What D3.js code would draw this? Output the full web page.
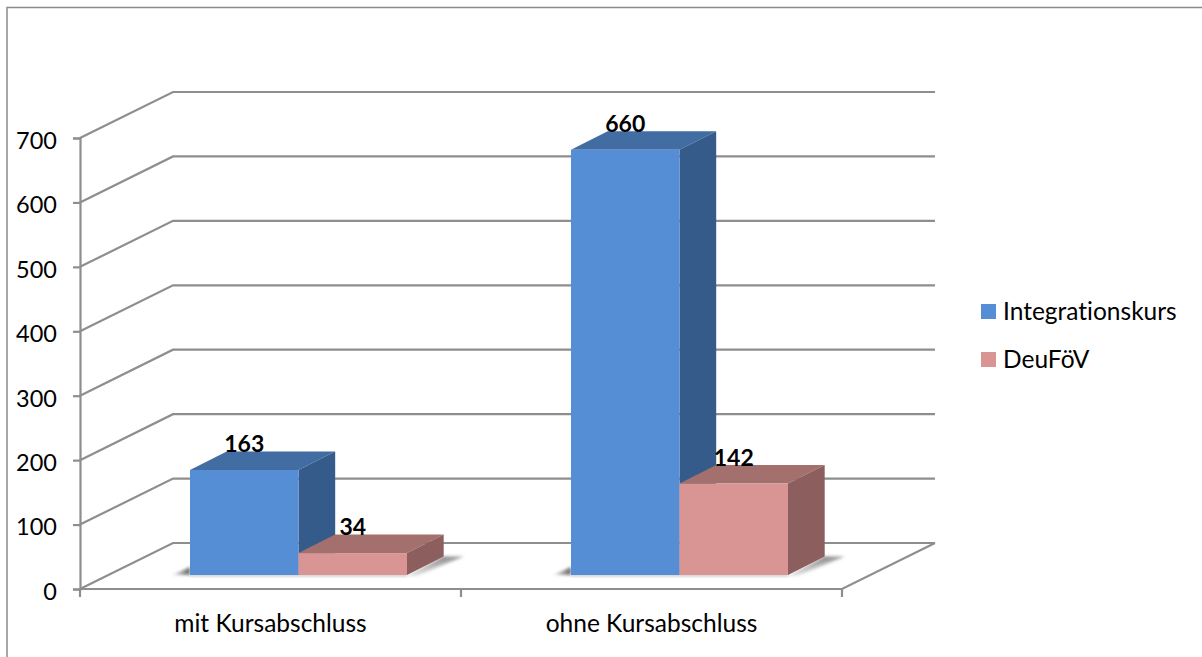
<!DOCTYPE html>
<html>
<head>
<meta charset="utf-8">
<script src="https://cdn.jsdelivr.net/npm/d3@7"></script>
<style>
  html, body { margin: 0; padding: 0; background: #fff; }
  svg { display: block; }
  text { font-family: Lato, "Open Sans", sans-serif; fill: #000; font-variant-ligatures: none; }
</style>
</head>
<body>
<div id="chart"></div>
<script>
const categories = ['mit Kursabschluss', 'ohne Kursabschluss'];
const seriesNames = ['Integrationskurs', 'DeuFöV'];
const integrationskurs = [163, 660];
const deufoev = [34, 142];
const yTicks = [0, 100, 200, 300, 400, 500, 600, 700];

const WIDTH = 1202;
const HEIGHT = 657;
const GRID = '#8e8e8e';

// oblique offset of the back wall and of the bars
const WALL_DX = 93, WALL_DY = -46;
const BAR_DX = 36.7, BAR_DY = -18.5;
const FLOOR_DY = -14;

const colours = [
  { front: '#558ed5', top: '#426da3', side: '#355b8a' },
  { front: '#d99594', top: '#a4706e', side: '#8c5f5e' }
];

const x0 = d3.scaleBand().domain(categories).range([80, 842]);
const x1 = d3.scaleBand().domain(seriesNames).range([110, 327]);
const y = d3.scaleLinear().domain([0, 700]).range([589, 138]);

const svg = d3.select('#chart').append('svg')
  .attr('width', WIDTH)
  .attr('height', HEIGHT);

const defs = svg.append('defs');
defs.append('filter').attr('id', 'blur')
  .attr('x', '-30%').attr('y', '-60%').attr('width', '160%').attr('height', '220%')
  .append('feGaussianBlur').attr('stdDeviation', 1.8);

// shadow fades away from the bar
const fade = defs.append('linearGradient').attr('id', 'fade')
  .attr('x1', 0.35).attr('y1', 0).attr('x2', 0.8).attr('y2', 0.7);
fade.append('stop').attr('offset', 0).attr('stop-color', '#555').attr('stop-opacity', 0.95);
fade.append('stop').attr('offset', 1).attr('stop-color', '#555').attr('stop-opacity', 0);

const fadeLeft = defs.append('linearGradient').attr('id', 'fade-left')
  .attr('x1', 1).attr('y1', 0).attr('x2', 0).attr('y2', 0);
fadeLeft.append('stop').attr('offset', 0).attr('stop-color', '#555').attr('stop-opacity', 0.9);
fadeLeft.append('stop').attr('offset', 1).attr('stop-color', '#555').attr('stop-opacity', 0.1);

// chart frame, only top and left are visible in the crop
svg.append('path')
  .attr('d', `M7,${HEIGHT} V7.5 H${WIDTH}`)
  .attr('fill', 'none')
  .attr('stroke', '#8a8a8a')
  .attr('stroke-width', 1.5);

// walls and floor
const grid = svg.append('g').attr('id', 'grid')
  .attr('fill', 'none')
  .attr('stroke', GRID)
  .attr('stroke-width', 2.2);

grid.selectAll('path')
  .data(yTicks)
  .join('path')
  .attr('d', d => {
    const xl = x0.range()[0], xr = x0.range()[1];
    return `M${xl},${y(d)} L${xl + WALL_DX},${y(d) + WALL_DY} H${xr + WALL_DX}`;
  });

// floor front edge and right edge
grid.append('path')
  .attr('d', `M${x0.range()[0]},${y(0)} H${x0.range()[1]} L${x0.range()[1] + WALL_DX},${y(0) + WALL_DY}`);

// value axis
const yAxis = svg.append('g')
  .attr('transform', `translate(${x0.range()[0]},0)`)
  .call(d3.axisLeft(y).tickValues(yTicks).tickSize(7).tickPadding(16));
yAxis.select('.domain').attr('stroke', GRID).attr('stroke-width', 2.2);
yAxis.selectAll('.tick line').attr('stroke', GRID).attr('stroke-width', 2.2);
yAxis.selectAll('.tick text')
  .style('font-size', '23.5px')
  .attr('dy', '0.44em');

// category axis
const xAxis = svg.append('g')
  .attr('transform', `translate(0,${y(0)})`)
  .call(d3.axisBottom(x0).tickSize(0).tickPadding(26));
xAxis.select('.domain').remove();
xAxis.selectAll('.tick text')
  .style('font-size', '24.5px')
  .attr('dy', '0.71em');

const edges = categories.map(c => x0(c)).concat(x0.range()[1]);
xAxis.selectAll('line.edge')
  .data(edges)
  .join('line')
  .attr('class', 'edge')
  .attr('x1', d => d).attr('x2', d => d)
  .attr('y1', 0).attr('y2', 8)
  .attr('stroke', GRID)
  .attr('stroke-width', 2.2);

// bars
const values = [integrationskurs, deufoev];
const base = y(0) + FLOOR_DY;
const bw = x1.bandwidth();

const groups = svg.append('g').attr('id', 'bars')
  .selectAll('g')
  .data(categories)
  .join('g')
  .attr('transform', c => `translate(${x0(c)},0)`);

// soft shadow on the floor: right of the last bar, left of the first, thin line below
const left = x1.range()[0], right = x1.range()[1];
groups.append('path')
  .attr('filter', 'url(#blur)')
  .attr('fill', 'url(#fade)')
  .attr('d', `M${right},${base + 1} L${right + BAR_DX},${base + BAR_DY} H${right + BAR_DX + 20} L${right + 10},${base + 1} Z`);
groups.append('path')
  .attr('filter', 'url(#blur)')
  .attr('fill', 'url(#fade-left)')
  .attr('d', `M${left - 18},${base} L${left},${base - 8} V${base} Z`);
groups.append('rect')
  .attr('filter', 'url(#blur)')
  .attr('fill', '#c4c4c4')
  .attr('x', left)
  .attr('y', base - 1)
  .attr('width', right - left)
  .attr('height', 2.5);

seriesNames.forEach((name, s) => {
  const bars = groups.append('g')
    .datum((c, i) => ({ x: x1(name), h: y(0) - y(values[s][i]), c: colours[s] }));

  // top face
  bars.append('path')
    .attr('fill', d => d.c.top)
    .attr('d', d => `M${d.x},${base - d.h} l${BAR_DX},${BAR_DY} h${bw} l${-BAR_DX},${-BAR_DY} Z`);
  // side face
  bars.append('path')
    .attr('fill', d => d.c.side)
    .attr('d', d => `M${d.x + bw},${base - d.h} l${BAR_DX},${BAR_DY} v${d.h} l${-BAR_DX},${-BAR_DY} Z`);
  // front face
  bars.append('rect')
    .attr('fill', d => d.c.front)
    .attr('x', d => d.x)
    .attr('y', d => base - d.h)
    .attr('width', bw)
    .attr('height', d => d.h);
});

// value labels go on top of every bar
seriesNames.forEach((name, s) => {
  groups.append('text')
    .attr('x', x1(name) + bw / 2)
    .attr('y', (c, i) => base - (y(0) - y(values[s][i])) + BAR_DY + 0.5)
    .attr('text-anchor', 'middle')
    .style('font-size', '23px')
    .style('font-weight', 700)
    .text((c, i) => values[s][i]);
});

// legend
const legendY = d3.scalePoint().domain(seriesNames).range([311.5, 359.5]);
const legend = svg.append('g').attr('id', 'legend')
  .selectAll('g')
  .data(seriesNames)
  .join('g')
  .attr('transform', d => `translate(981,${legendY(d)})`);

legend.append('rect')
  .attr('y', -7.5)
  .attr('width', 15)
  .attr('height', 15)
  .attr('fill', (d, i) => colours[i].front);

legend.append('text')
  .attr('x', 22)
  .attr('dy', '0.36em')
  .style('font-size', '24.5px')
  .text(d => d);
</script>
</body>
</html>
